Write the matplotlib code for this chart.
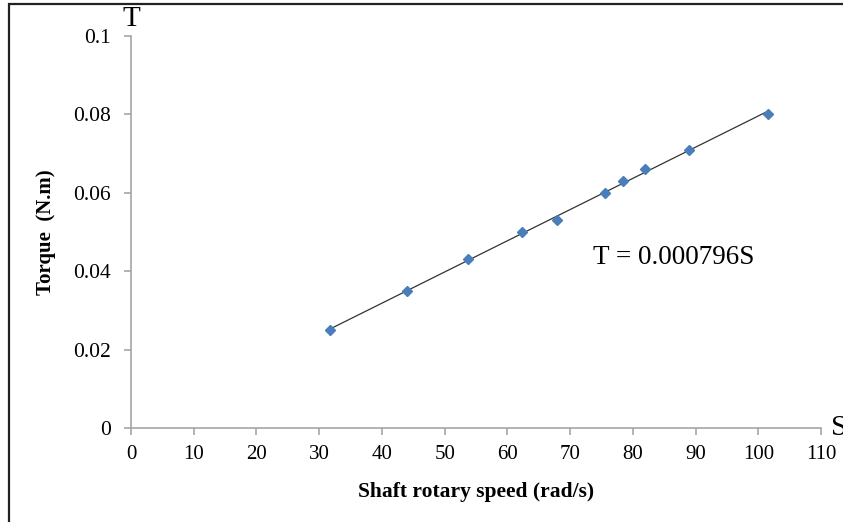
import matplotlib
matplotlib.use("Agg")
import matplotlib.pyplot as plt
import numpy as np
from matplotlib.patches import Rectangle

# ── Data ──────────────────────────────────────────────────────────────────────
speed = [31.7, 44.0, 53.8, 62.4, 67.9, 75.6, 78.4, 82.0, 88.9, 101.5]   # rad/s
torque = [0.025, 0.035, 0.043, 0.050, 0.053, 0.060, 0.063, 0.066, 0.071, 0.080]  # N.m
slope = 0.000796
x_ticks = list(range(0, 111, 10))
y_ticks = [0, 0.02, 0.04, 0.06, 0.08, 0.1]
y_ticklabels = ["0", "0.02", "0.04", "0.06", "0.08", "0.1"]

plt.rcParams["font.family"] = ["Liberation Serif", "DejaVu Serif"]

fig = plt.figure(figsize=(8.43, 5.22), dpi=100)
ax = fig.add_axes([131 / 843, 1 - 428 / 522, 690 / 843, 392 / 522])

# trendline over the data range
s_fit = np.array([min(speed), max(speed)])
ax.plot(s_fit, slope * s_fit, color="#333333", linewidth=0.9, zorder=2)
ax.plot(speed, torque, linestyle="none", marker="D", markersize=5,
        color="#4a7ebb", markeredgecolor="#4a7ebb", zorder=3)

ax.set_xlim(0, 110)
ax.set_ylim(0, 0.1)
ax.set_xticks(x_ticks)
ax.set_yticks(y_ticks)
ax.set_yticklabels(y_ticklabels)

for side in ("top", "right"):
    ax.spines[side].set_visible(False)
for side in ("left", "bottom"):
    ax.spines[side].set_color("#a6a6a6")
    ax.spines[side].set_linewidth(1.2)
ax.tick_params(axis="both", direction="out", length=5, width=1.2,
               color="#a6a6a6", labelcolor="black")
ax.tick_params(axis="y", pad=9.5, labelsize=15.5)
ax.tick_params(axis="x", pad=7, labelsize=15)

ax.set_xlabel("Shaft rotary speed (rad/s)", fontsize=15.5, fontweight="bold", labelpad=13)
ax.set_ylabel("Torque  (N.m)", fontsize=15, fontweight="bold", labelpad=12)

# axis letters
ax.annotate("T", xy=(0, 1), xycoords="axes fraction", xytext=(0, 3),
            textcoords="offset points", ha="center", va="bottom", fontsize=21)
ax.annotate("S", xy=(1, 0), xycoords="axes fraction", xytext=(7, 0),
            textcoords="offset points", ha="left", va="center", fontsize=21)

ax.text(73.6, 0.0418, "T = 0.000796S", fontsize=19.5, ha="left", va="baseline")

# outer frame (cropped on right and bottom in the reference)
fig.patches.append(Rectangle((9 / 843, -0.1), 1.2, 1.1 - 4 / 522,
                             transform=fig.transFigure, fill=False,
                             edgecolor="#222222", linewidth=1.6))

fig.savefig("out.png", dpi=100)
